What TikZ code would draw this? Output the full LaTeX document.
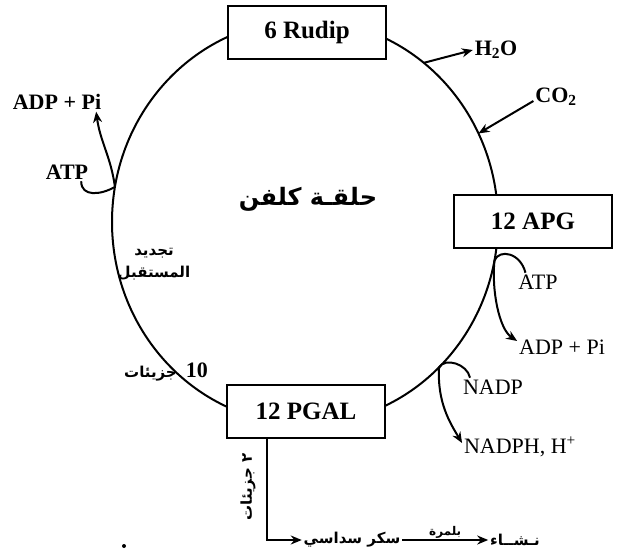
\documentclass[tikz,border=0pt]{standalone}
\usepackage{fontspec}
\setmainfont{Liberation Serif}
\newfontfamily\arabicfont[Script=Arabic]{DejaVu Sans}
\TeXXeTstate=1
\usepackage{tikz}
\usetikzlibrary{positioning,arrows.meta,calc}
\tikzset{
  stagebox/.style = {draw, line width=2pt, fill=white, minimum width=158pt, minimum height=53pt, inner sep=0pt, font=\fontsize{25}{28}\selectfont\bfseries},
  lab/.style      = {inner sep=1pt, font=\fontsize{22}{24}\selectfont},
  blab/.style     = {inner sep=1pt, font=\fontsize{22}{24}\selectfont\bfseries},
  ar/.style       = {inner sep=1pt, font=\arabicfont\bfseries\fontsize{15}{22}\selectfont},
  flow/.style     = {-{Stealth[length=11pt,width=9pt]}, line width=2pt},
  hook/.style     = {line width=2pt},
}

\begin{document}
\begin{tikzpicture}[x=1pt, y=-1pt, line width=2pt]
  \useasboundingbox (0,0) rectangle (622,557);
  \coordinate (c) at (305,222);
  \draw (c) ellipse [x radius=193, y radius=202];
  \coordinate (jh) at ($(c)+(-52:193 and 202)$); \coordinate (jc) at ($(c)+(-26:193 and 202)$);
  \coordinate (jl) at ($(c)+(190:193 and 202)$); \coordinate (jr) at ($(c)+(11:193 and 202)$);
  \coordinate (jn) at ($(c)+(46:193 and 202)$);

  \node[stagebox] (rudip) at (307,32) {6 Rudip};
  \node[stagebox] (apg) at (533,221) {12 APG};
  \node[stagebox] (pgal) at (306,411) {12 PGAL};

  \node[blab] (h2o) at (496,50) {H\textsubscript{2}O}; \node[blab] (co2) at (556,97) {CO\textsubscript{2}};
  \node[blab] (adpL) at (57,102) {ADP + Pi}; \node[blab] (atpL) at (67,172) {ATP};
  \node[lab] (atpR) at (538,282) {ATP}; \node[lab] (adpR) at (562,347) {ADP + Pi};
  \node[lab] (nadp) at (493,387) {NADP}; \node[lab] (nadph) at (520,447) {NADPH, H\textsuperscript{+}};

  \node[ar, font=\arabicfont\bfseries\fontsize{24}{28}\selectfont] (title) at (308,199) {\beginR حلقـة كلفن\endR};
  \node[ar, align=center] (regen) at (154,264) {\beginR تجديد\endR\\\beginR المستقبل\endR};
  \node[ar] (ten) at (166,372) {\beginR جزيئات\endR\hspace{9pt}{\rmfamily\fontsize{22}{24}\selectfont 10}};
  \node[ar, rotate=90] (two) at (248,487) {\beginR ٢ جزيئات\endR};
  \node[ar] (hexose) at (352,540) {\beginR سكر سداسي\endR};
  \node[ar] (starch) at (515,540) {\beginR نـشــاء\endR};

  \draw[flow] (jh) -- (h2o.west);
  \draw[flow] ([yshift=-4pt]co2.west) -- (jc);
  \draw[hook] ([xshift=-9pt]atpL.south east) .. controls +(0,16) and +(-14,8) .. (jl);
  \draw[flow] (jl) .. controls +(-4,-30) and +(4,30) .. ([xshift=-7pt]adpL.south east);
  \draw[hook] (jr) .. controls +(5,-12) and +(-5,-20) .. ([xshift=9pt]atpR.north west);
  \draw[flow] (jr) .. controls +(-3,30) and +(-18,-12) .. ([yshift=6pt]adpR.west);
  \draw[hook] (jn) .. controls +(6,-10) and +(-3,-14) .. ([xshift=9pt]nadp.north west);
  \draw[flow] (jn) .. controls +(-2,35) and +(-12,-20) .. ([yshift=4pt]nadph.west);
  \draw[flow] ([xshift=-39pt]pgal.south) |- (hexose.west);
  \draw[flow] (hexose) -- node[above, ar, font=\arabicfont\bfseries\fontsize{12}{14}\selectfont] (poly) {\beginR بلمرة\endR} (starch);
  \fill (124,546) circle (2);
\end{tikzpicture}
\end{document}
